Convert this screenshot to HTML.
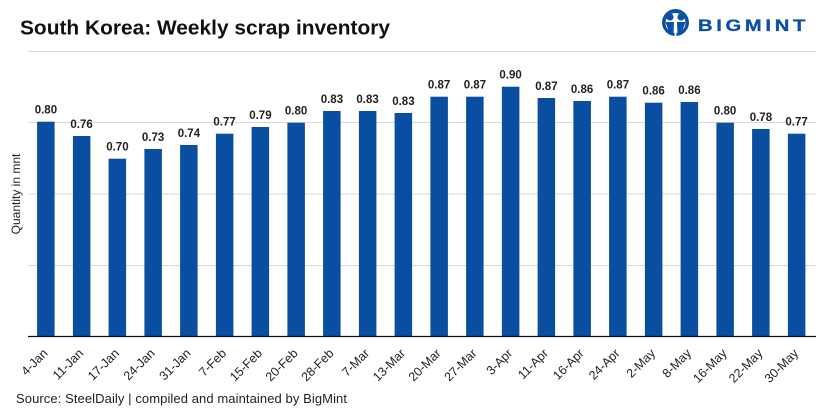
<!DOCTYPE html>
<html>
<head>
<meta charset="utf-8">
<style>
html,body{margin:0;padding:0;background:#fff;}
body{width:825px;height:412px;overflow:hidden;}
svg{display:block;}
text{font-family:"Liberation Sans",Arial,sans-serif;}
</style>
</head>
<body>
<svg width="825" height="412" viewBox="0 0 825 412" xmlns="http://www.w3.org/2000/svg">
<rect width="825" height="412" fill="#fff"/>
<text x="20" y="34.5" font-size="20" font-weight="bold" fill="#111" textLength="370" lengthAdjust="spacingAndGlyphs">South Korea: Weekly scrap inventory</text>

<!-- logo -->
<g>
<circle cx="675.5" cy="22.5" r="13.5" fill="#0b4fa6"/>
<circle cx="675.5" cy="23" r="10" fill="#fff"/>
<circle cx="670" cy="17" r="3.6" fill="#0b4fa6"/>
<circle cx="681" cy="17" r="3.6" fill="#0b4fa6"/>
<path d="M665.5 22 L674 22 L673.5 35 L670 35 Z" fill="#0b4fa6"/>
<path d="M677 22 L685.5 22 L681 35 L677.5 35 Z" fill="#0b4fa6"/>
<rect x="674.6" y="20" width="1.8" height="17" fill="#fff"/>
<rect x="660" y="30" width="5" height="8" fill="#fff"/>
<rect x="686" y="30" width="5" height="8" fill="#fff"/>
</g>
<text x="698" y="31" font-size="16.5" font-weight="bold" fill="#0b4fa6" letter-spacing="3" textLength="111" lengthAdjust="spacingAndGlyphs" stroke="#0b4fa6" stroke-width="0.3">BIGMINT</text>

<!-- gridlines -->
<g stroke="#d9d9d9" stroke-width="1">
<line x1="28" y1="51.5" x2="816" y2="51.5"/>
<line x1="28" y1="122.5" x2="816" y2="122.5"/>
<line x1="28" y1="194" x2="816" y2="194"/>
<line x1="28" y1="265.5" x2="816" y2="265.5"/>
</g>

<text transform="translate(20,194) rotate(-90)" text-anchor="middle" font-size="12" fill="#222">Quantity in mnt</text>

<!-- bars -->
<g fill="#0a4ea2">
<rect x="37.1" y="121.7" width="17.5" height="214.3"/>
<rect x="72.9" y="136" width="17.5" height="200"/>
<rect x="108.6" y="158.7" width="17.5" height="177.3"/>
<rect x="144.4" y="149" width="17.5" height="187"/>
<rect x="180.1" y="145" width="17.5" height="191"/>
<rect x="215.9" y="133.7" width="17.5" height="202.3"/>
<rect x="251.6" y="127" width="17.5" height="209"/>
<rect x="287.4" y="122.7" width="17.5" height="213.3"/>
<rect x="323.1" y="111" width="17.5" height="225"/>
<rect x="358.9" y="111" width="17.5" height="225"/>
<rect x="394.6" y="113" width="17.5" height="223"/>
<rect x="430.4" y="96.7" width="17.5" height="239.3"/>
<rect x="466.1" y="96.7" width="17.5" height="239.3"/>
<rect x="501.9" y="86.7" width="17.5" height="249.3"/>
<rect x="537.6" y="98" width="17.5" height="238"/>
<rect x="573.4" y="101" width="17.5" height="235"/>
<rect x="609.1" y="96.7" width="17.5" height="239.3"/>
<rect x="644.9" y="102.7" width="17.5" height="233.3"/>
<rect x="680.6" y="102" width="17.5" height="234"/>
<rect x="716.4" y="122.7" width="17.5" height="213.3"/>
<rect x="752.1" y="129" width="17.5" height="207"/>
<rect x="787.9" y="133.7" width="17.5" height="202.3"/>
</g>

<!-- data labels -->
<g font-size="11.5" font-weight="bold" fill="#222" text-anchor="middle">
<text x="45.9" y="113.7">0.80</text>
<text x="81.6" y="128">0.76</text>
<text x="117.4" y="150.7">0.70</text>
<text x="153.1" y="141">0.73</text>
<text x="188.9" y="137">0.74</text>
<text x="224.6" y="125.7">0.77</text>
<text x="260.4" y="119">0.79</text>
<text x="296.1" y="114.7">0.80</text>
<text x="331.9" y="103">0.83</text>
<text x="367.6" y="103">0.83</text>
<text x="403.4" y="105">0.83</text>
<text x="439.1" y="88.7">0.87</text>
<text x="474.9" y="88.7">0.87</text>
<text x="510.6" y="78.7">0.90</text>
<text x="546.4" y="90">0.87</text>
<text x="582.1" y="93">0.86</text>
<text x="617.9" y="88.7">0.87</text>
<text x="653.6" y="94.7">0.86</text>
<text x="689.4" y="94">0.86</text>
<text x="725.1" y="114.7">0.80</text>
<text x="760.9" y="121">0.78</text>
<text x="796.6" y="125.7">0.77</text>
</g>

<!-- axis -->
<line x1="28" y1="336.5" x2="816" y2="336.5" stroke="#111" stroke-width="1.3"/>

<!-- x labels -->
<g font-size="12.5" fill="#222" text-anchor="end">
<text transform="translate(48.4,354) rotate(-45)">4-Jan</text>
<text transform="translate(84.1,354) rotate(-45)">11-Jan</text>
<text transform="translate(119.9,354) rotate(-45)">17-Jan</text>
<text transform="translate(155.6,354) rotate(-45)">24-Jan</text>
<text transform="translate(191.4,354) rotate(-45)">31-Jan</text>
<text transform="translate(227.1,354) rotate(-45)">7-Feb</text>
<text transform="translate(262.9,354) rotate(-45)">15-Feb</text>
<text transform="translate(298.6,354) rotate(-45)">20-Feb</text>
<text transform="translate(334.4,354) rotate(-45)">28-Feb</text>
<text transform="translate(370.1,354) rotate(-45)">7-Mar</text>
<text transform="translate(405.9,354) rotate(-45)">13-Mar</text>
<text transform="translate(441.6,354) rotate(-45)">20-Mar</text>
<text transform="translate(477.4,354) rotate(-45)">27-Mar</text>
<text transform="translate(513.1,354) rotate(-45)">3-Apr</text>
<text transform="translate(548.9,354) rotate(-45)">11-Apr</text>
<text transform="translate(584.6,354) rotate(-45)">16-Apr</text>
<text transform="translate(620.4,354) rotate(-45)">24-Apr</text>
<text transform="translate(656.1,354) rotate(-45)">2-May</text>
<text transform="translate(691.9,354) rotate(-45)">8-May</text>
<text transform="translate(727.6,354) rotate(-45)">16-May</text>
<text transform="translate(763.4,354) rotate(-45)">22-May</text>
<text transform="translate(799.1,354) rotate(-45)">30-May</text>
</g>

<text x="16" y="403" font-size="13" fill="#222" textLength="331" lengthAdjust="spacing">Source: SteelDaily | compiled and maintained by BigMint</text>
</svg>
</body>
</html>
